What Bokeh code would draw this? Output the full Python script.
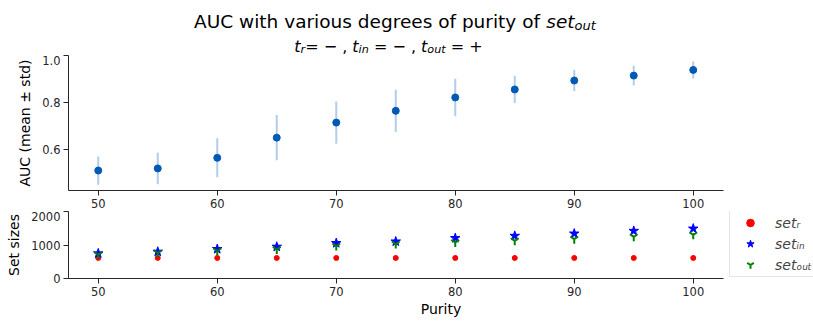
from bokeh.plotting import figure
from bokeh.models import (ColumnDataSource, Legend, LegendItem, FixedTicker,
                          PrintfTickFormatter, Range1d)
from bokeh.core.properties import value
from bokeh.layouts import column
from bokeh.embed import file_html
from bokeh.resources import INLINE

# ---------------- data ----------------
purity = [50, 55, 60, 65, 70, 75, 80, 85, 90, 95, 100]
auc_mean = [0.511, 0.520, 0.565, 0.651, 0.715, 0.765, 0.822, 0.856, 0.894, 0.915, 0.939]
auc_std = [0.060, 0.067, 0.083, 0.096, 0.090, 0.090, 0.080, 0.058, 0.045, 0.042, 0.036]
set_r = [615, 615, 615, 615, 615, 615, 615, 615, 615, 615, 615]
set_in = [751, 801, 881, 950, 1059, 1107, 1208, 1276, 1344, 1424, 1493]
set_out = [712, 763, 822, 870, 970, 1030, 1077, 1128, 1178, 1246, 1306]
x_ticks = [50, 60, 70, 80, 90, 100]
auc_ticks = [0.6, 0.8, 1.0]
size_ticks = [0, 1000, 2000]
legend_labels = ["setᵣ", "setᵢₙ", "setₒᵤₜ"]

FONT = "DejaVu Sans"
AX = "#262626"
WIDTH = 813
LEFT = 68
X_LO, X_HI = 47.5, 102.5                  # axis extent
X_VIEW_HI = X_LO + (WIDTH - LEFT) / 11.9  # frame extends right to hold the legend

# DejaVu Sans advance widths (em)
W = {'A': .684, 'U': .732, 'C': .698, ' ': .318, 'w': .818, 'i': .278, 't': .392,
     'h': .634, 'v': .592, 'a': .613, 'r': .411, 'o': .612, 'u': .634, 's': .521,
     'd': .635, 'e': .615, 'g': .635, 'f': .352, 'p': .635, 'y': .592, 'n': .634,
     '=': .838, '−': .838, '+': .838, ',': .318}


def tw(s, size):
    return sum(W.get(c, .6) for c in s) * size


# ---------------- header (title + subtitle) ----------------
HEAD_H = 55
head = figure(width=WIDTH, height=HEAD_H, x_range=Range1d(LEFT, WIDTH), y_range=Range1d(HEAD_H, 0),
              output_backend="svg", toolbar_location=None,
              x_axis_location=None, y_axis_location=None,
              min_border_left=LEFT, min_border_right=0,
              min_border_top=0, min_border_bottom=0)
head.xgrid.visible = False
head.ygrid.visible = False
head.outline_line_color = None


def place(fig, segments, cx, base_y):
    total = sum(tw(t, s) for t, s, _, _ in segments)
    x = cx - total / 2
    for text, size, style, dy in segments:
        lead = len(text) - len(text.lstrip(' '))
        core = text.strip(' ')
        xx = x + tw(' ' * lead, size)
        fig.text(x=[xx], y=[base_y + dy], text=[core], text_font=value(FONT),
                 text_font_size=value(f"{size}px"), text_font_style=style,
                 text_color="#000000", text_baseline="alphabetic", text_align="left")
        x += tw(text, size)


place(head, [("AUC with various degrees of purity of ", 18.5, "normal", 0),
             ("set", 18.5, "italic", 0),
             ("out", 13, "italic", 3.5)], 394.5, 21)
place(head, [("t", 16, "italic", 0), ("r", 11.2, "italic", 2.5),
             ("= − , ", 16, "normal", 0),
             ("t", 16, "italic", 0), ("in", 11.2, "italic", 2.5),
             (" = − , ", 16, "normal", 0),
             ("t", 16, "italic", 0), ("out", 11.2, "italic", 2.5),
             (" = +", 16, "normal", 0)], 388, 46)


def style_axes(p):
    p.xgrid.visible = False
    p.ygrid.visible = False
    p.outline_line_color = None
    for ax in (p.xaxis[0], p.yaxis[0]):
        ax.axis_line_color = AX
        ax.major_tick_line_color = AX
        ax.major_tick_out = 5
        ax.major_tick_in = 0
        ax.minor_tick_line_color = None
        ax.major_label_text_font = FONT
        ax.major_label_text_font_size = "11.5px"
        ax.major_label_text_color = "#262626"
        ax.axis_label_text_font = FONT
        ax.axis_label_text_font_size = "14px"
        ax.axis_label_text_font_style = "normal"
        ax.axis_label_text_color = "#000000"
        ax.major_label_standoff = 3
    p.xaxis[0].ticker = FixedTicker(ticks=x_ticks)
    p.xaxis[0].bounds = (X_LO, X_HI)


# ---------------- top panel ----------------
top = figure(width=WIDTH, height=156, x_range=(X_LO, X_VIEW_HI), y_range=(0.426, 1.0005),
             output_backend="svg", toolbar_location=None,
             min_border_left=LEFT, min_border_right=0, min_border_top=0, min_border_bottom=21)
style_axes(top)
top.yaxis[0].ticker = FixedTicker(ticks=auc_ticks)
top.yaxis[0].formatter = PrintfTickFormatter(format="%.1f")
top.yaxis[0].axis_label = "AUC (mean ± std)"
top.yaxis[0].axis_label_standoff = 6

lo = [m - s for m, s in zip(auc_mean, auc_std)]
hi = [m + s for m, s in zip(auc_mean, auc_std)]
src = ColumnDataSource(dict(x=purity, y=auc_mean, lo=lo, hi=hi))
top.segment(x0="x", y0="lo", x1="x", y1="hi", source=src, line_color="#005ab5",
            line_alpha=0.3, line_width=2)
top.scatter(x="x", y="y", source=src, size=7, marker="circle",
            fill_color="#005ab5", line_color="#005ab5")

# ---------------- bottom panel ----------------
bot = figure(width=WIDTH, height=111, x_range=(X_LO, X_VIEW_HI), y_range=(0, 2005),
             output_backend="svg", toolbar_location=None,
             min_border_left=LEFT, min_border_right=0, min_border_top=0, min_border_bottom=44)
style_axes(bot)
bot.yaxis[0].ticker = FixedTicker(ticks=size_ticks)
bot.yaxis[0].axis_label = "Set sizes"
bot.yaxis[0].axis_label_standoff = 6
bot.xaxis[0].axis_label = "Purity"
bot.xaxis[0].axis_label_standoff = 2

r_r = bot.scatter(purity, set_r, marker="circle", size=5, fill_color="#ff0000", line_color="#ff0000")
r_in = bot.scatter(purity, set_in, marker="star", size=10, fill_color="#0000ff", line_color="#0000ff")
r_out = bot.scatter(purity, set_out, marker="y", size=9, line_color="#008000", line_width=2)

legend = Legend(items=[LegendItem(label=legend_labels[0], renderers=[r_r]),
                       LegendItem(label=legend_labels[1], renderers=[r_in]),
                       LegendItem(label=legend_labels[2], renderers=[r_out])],
                location=(661, 1))
legend.label_text_font = FONT
legend.label_text_font_size = "14px"
legend.label_text_font_style = "italic"
legend.padding = 2
legend.spacing = 2
legend.label_height = 19
legend.glyph_height = 19
legend.glyph_width = 36
legend.label_standoff = 7
legend.border_line_color = "#cccccc"
legend.border_line_width = 1
legend.background_fill_alpha = 1.0
legend.margin = 0
bot.add_layout(legend)

layout = column(head, top, bot, spacing=0)
open("out.html", "w").write(file_html(layout, INLINE))
